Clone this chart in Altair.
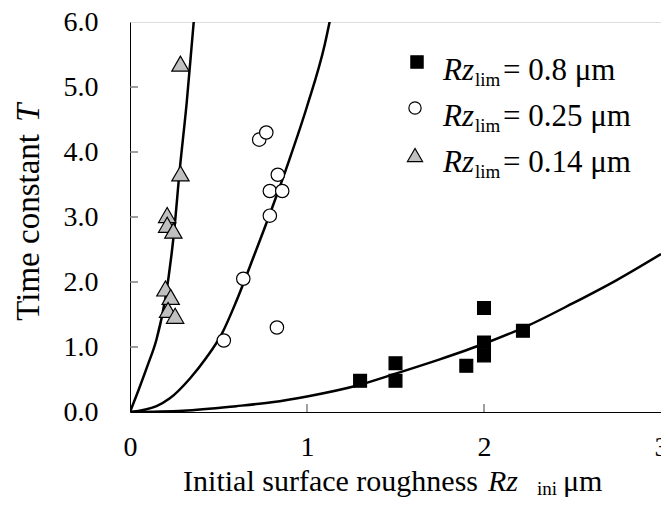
import altair as alt
import pandas as pd

# ---- data ----
series_names = ["0.8", "0.25", "0.14"]

sq_x = [1.30, 1.50, 1.50, 1.90, 2.00, 2.00, 2.00, 2.22]
sq_y = [0.48, 0.75, 0.48, 0.71, 1.60, 1.07, 0.87, 1.25]

ci_x = [0.73, 0.77, 0.835, 0.79, 0.86, 0.79, 0.64, 0.83, 0.53]
ci_y = [4.19, 4.30, 3.65, 3.40, 3.40, 3.02, 2.05, 1.30, 1.10]

tr_x = [0.285, 0.285, 0.21, 0.21, 0.245, 0.20, 0.23, 0.215, 0.255]
tr_y = [5.36, 3.67, 3.03, 2.88, 2.79, 1.90, 1.77, 1.57, 1.48]

# fitted curves
sq_cx = [0, 0.3, 0.6, 0.8, 1.0, 1.3, 1.5, 1.75, 2.0, 2.25, 2.5, 2.75, 3.0]
sq_cy = [0, 0.02, 0.09, 0.15, 0.24, 0.42, 0.59, 0.81, 1.05, 1.33, 1.67, 2.03, 2.43]

ci_cx = [0, 0.15, 0.225, 0.34, 0.43, 0.52, 0.6, 0.7, 0.8, 0.9, 1.0, 1.1, 1.15]
ci_cy = [0, 0.09, 0.21, 0.52, 0.83, 1.21, 1.7, 2.4, 3.12, 3.88, 4.7, 5.65, 6.3]

tr_cx = [0, 0.05, 0.1, 0.15, 0.2, 0.25, 0.28, 0.32, 0.36, 0.37]
tr_cy = [0, 0.35, 0.72, 1.12, 1.75, 2.8, 3.7, 4.75, 6.0, 6.3]

x_ticks = [0, 1, 2, 3]
y_ticks = [0, 1, 2, 3, 4, 5, 6]
x_inner_ticks = [1, 2]
y_inner_ticks = [1, 2, 3, 4, 5]

W, H = 531, 390
SERIF = "Liberation Serif"

curves = pd.concat([
    pd.DataFrame({"x": sq_cx, "y": sq_cy, "s": series_names[0]}),
    pd.DataFrame({"x": ci_cx, "y": ci_cy, "s": series_names[1]}),
    pd.DataFrame({"x": tr_cx, "y": tr_cy, "s": series_names[2]}),
])

xs = alt.Scale(domain=[0, 3], nice=False, zero=False)
ys = alt.Scale(domain=[0, 6], nice=False, zero=False)

lines = alt.Chart(curves).mark_line(
    color="black", strokeWidth=2.5, clip=True, interpolate="monotone"
).encode(
    x=alt.X("x:Q", scale=xs,
            axis=alt.Axis(values=x_ticks, format="d", title=None, grid=False,
                          ticks=False, tickSize=0, labelPadding=21,
                          labelFont=SERIF, labelFontSize=28, labelColor="black",
                          domainColor="black", labelFlush=False)),
    y=alt.Y("y:Q", scale=ys,
            axis=alt.Axis(values=y_ticks, format=".1f", title=None, grid=False,
                          ticks=False, tickSize=0, labelPadding=32,
                          labelFont=SERIF, labelFontSize=28, labelColor="black",
                          domainColor="black")),
    detail="s:N",
)

styles = {
    "0.8": dict(shape="square", fill="black", size=165),
    "0.25": dict(shape="circle", fill="white", size=180),
    "0.14": dict(shape="triangle-up", fill="#c0c0c0", size=300),
}


def pts_layer(xv, yv, name):
    st = styles[name]
    return alt.Chart(pd.DataFrame({"x": xv, "y": yv})).mark_point(
        shape=st["shape"], fill=st["fill"], size=st["size"], filled=True,
        stroke="black", strokeWidth=1.2, opacity=1,
    ).encode(x=alt.X("x:Q", scale=xs), y=alt.Y("y:Q", scale=ys))


points = [
    pts_layer(sq_x, sq_y, "0.8"),
    pts_layer(ci_x, ci_y, "0.25"),
    pts_layer(tr_x, tr_y, "0.14"),
]

xt = alt.Chart(pd.DataFrame({"v": x_inner_ticks})).mark_rule(color="#808080", strokeWidth=1.5).encode(
    x=alt.X("v:Q", scale=xs), y=alt.value(H), y2=alt.value(H - 8))
yt = alt.Chart(pd.DataFrame({"v": y_inner_ticks})).mark_rule(color="#808080", strokeWidth=1.5).encode(
    y=alt.Y("v:Q", scale=ys), x=alt.value(0), x2=alt.value(8))


def txt(s, x, y, size=31, italic=False, angle=0, align="left", baseline="alphabetic"):
    return alt.Chart(pd.DataFrame({"t": [s]})).mark_text(
        font=SERIF, fontSize=size, fontStyle="italic" if italic else "normal",
        angle=angle, align=align, baseline=baseline, color="black",
    ).encode(x=alt.value(x), y=alt.value(y), text="t:N")


def sym(name, x, y, size):
    st = styles[name]
    return alt.Chart(pd.DataFrame({"t": [name]})).mark_point(
        shape=st["shape"], fill=st["fill"], size=size, filled=True,
        stroke="black", strokeWidth=1.2, opacity=1,
    ).encode(x=alt.value(x), y=alt.value(y))


annotations = [
    # x title
    txt("Initial surface roughness", 348, 469, size=30, align="right"),
    txt("Rz", 358, 469, size=30, italic=True),
    txt("ini", 407, 473, size=19),
    txt("\u03bcm", 433, 469, size=30),
    # y title
    txt("Time constant", -101, 112, size=33, angle=270, align="right", baseline="middle"),
    txt("T", -101, 100, size=33, italic=True, angle=270, baseline="middle"),
]

legend_sym = [(287, 40, 150), (285, 86, 150), (285, 133, 230)]
legend_base = [58, 104, 150]
for name, (sx, sy, ss), by in zip(series_names, legend_sym, legend_base):
    annotations.append(sym(name, sx, sy, ss))
    annotations.append(txt("Rz", 313, by, italic=True))
    annotations.append(txt("lim", 345, by + 6, size=19))
    annotations.append(txt("= " + name + " \u03bcm", 373, by))

chart = alt.layer(xt, yt, lines, *points, *annotations).properties(
    width=W, height=H,
    padding={"left": 122, "top": 14, "right": 0, "bottom": 87},
    autosize=alt.AutoSizeParams(type="none"),
).configure_view(stroke="#222", strokeWidth=1.3).configure(background="white")

chart.save("out.html", embed_options={"renderer": "svg", "actions": False})
